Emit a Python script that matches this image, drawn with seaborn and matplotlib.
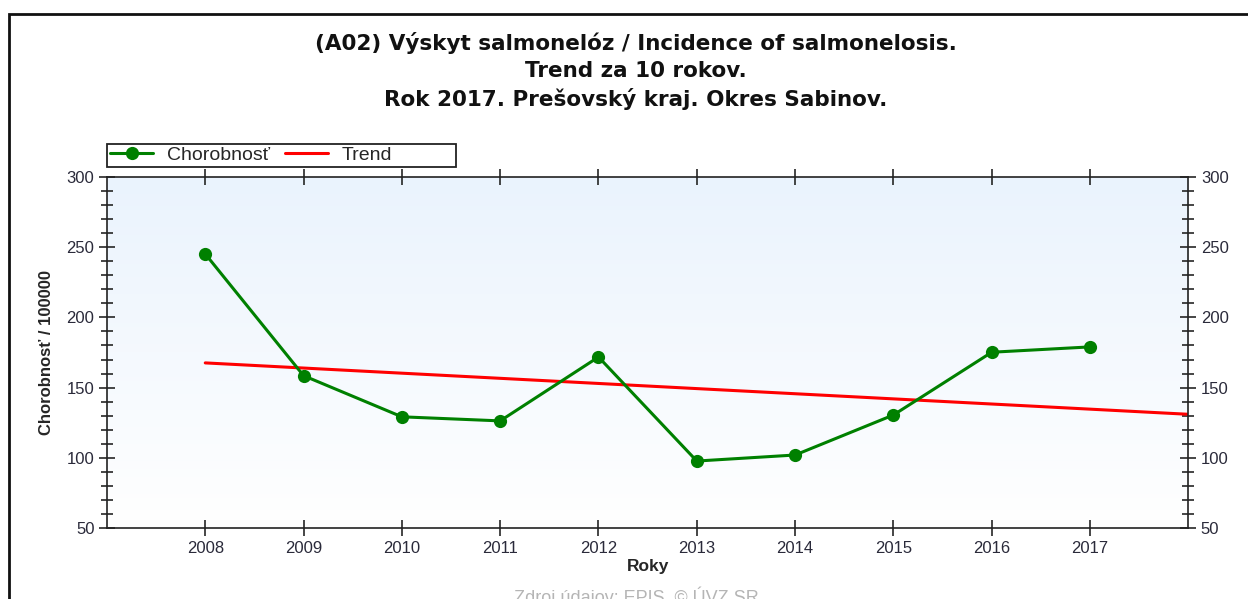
import numpy as np
import pandas as pd
import matplotlib
matplotlib.use('Agg')
import matplotlib.pyplot as plt
import seaborn as sns
from matplotlib.patches import Rectangle
from matplotlib.ticker import MultipleLocator

# data
years = [2008, 2009, 2010, 2011, 2012, 2013, 2014, 2015, 2016, 2017]
incidence = [245.2, 158.5, 129.2, 126.3, 171.8, 97.7, 102.0, 130.5, 175.2, 179.0]
trend_years = [2008, 2018]
trend_values = [167.6, 131.0]

title_lines = ['(A02) Výskyt salmonelóz / Incidence of salmonelosis.',
               'Trend za 10 rokov.',
               'Rok 2017. Prešovský kraj. Okres Sabinov.']

data = pd.DataFrame({'rok': years, 'chorobnost': incidence})
trend = pd.DataFrame({'rok': trend_years, 'trend': trend_values})

sns.set_style('white')
plt.rcParams['font.family'] = ['Liberation Sans', 'DejaVu Sans']

fig = plt.figure(figsize=(12.48, 5.99), dpi=100)
ax = fig.add_axes([0.0857, 0.1185, 0.8665, 0.586])

# light blue to white gradient background
grad = np.linspace(0, 1, 256).reshape(-1, 1)
cmap = matplotlib.colors.LinearSegmentedColormap.from_list('bg', ['#ffffff', '#eaf3fd'])
ax.imshow(grad, aspect='auto', cmap=cmap, origin='lower',
          extent=[2007, 2018, 50, 300], zorder=0)

sns.lineplot(x='rok', y='chorobnost', data=data, ax=ax, color='#008000',
             marker='o', markersize=9.5, markeredgewidth=0, linewidth=2.2,
             label='Chorobnosť', zorder=3)
sns.lineplot(x='rok', y='trend', data=trend, ax=ax, color='#ff0000',
             linewidth=2.2, label='Trend', zorder=2)

ax.set_xlim(2007, 2018)
ax.set_ylim(50, 300)
ax.set_xticks(years)
ax.set_xticklabels([str(y) for y in years])
ax.yaxis.set_major_locator(MultipleLocator(50))
ax.yaxis.set_minor_locator(MultipleLocator(10))

for s in ax.spines.values():
    s.set_color('#222222')
    s.set_linewidth(1.2)

ax.tick_params(axis='y', which='major', direction='inout', length=12, width=1.2,
               left=True, right=True, labelleft=True, labelright=True,
               labelsize=12, labelcolor='#2a2a3a', pad=3)
ax.tick_params(axis='y', which='minor', direction='inout', length=8, width=1.2,
               left=True, right=True)
ax.tick_params(axis='x', which='major', direction='inout', length=11, width=1.2,
               bottom=True, top=True, labelsize=12, labelcolor='#2a2a3a', pad=4)

ax.set_xlabel('Roky', fontsize=12.5, fontweight='bold', labelpad=2)
ax.set_ylabel('Chorobnosť / 100000', fontsize=12, fontweight='bold', labelpad=9)

leg = ax.legend(loc='center left', bbox_to_anchor=(0.003, 1.062), ncol=2,
                frameon=False, fontsize=14, borderpad=0, borderaxespad=0,
                handlelength=2.2, handletextpad=0.7, columnspacing=0.8)
# legend frame, wider than its entries
ax.add_patch(Rectangle((0.0, 1.0285), 0.323, 0.0655, transform=ax.transAxes,
                       fill=False, edgecolor='#222222', linewidth=1.3, clip_on=False))

for txt, yy in zip(title_lines, [0.928, 0.882, 0.835]):
    fig.text(0.5096, yy, txt, ha='center', va='center', fontsize=15.5,
             fontweight='bold', family=['DejaVu Sans'], color='#111111')

fig.text(0.5096, -0.006, 'Zdroj údajov: EPIS, © ÚVZ SR', ha='center', va='baseline',
         fontsize=13, color='#b5b5b5')

# outer frame
fig.patches.append(Rectangle((0.0076, -0.2), 1.2, 0.2 + 0.9766, transform=fig.transFigure,
                             fill=False, edgecolor='#111111', linewidth=2, clip_on=False))

fig.savefig('out.png', dpi=100)
